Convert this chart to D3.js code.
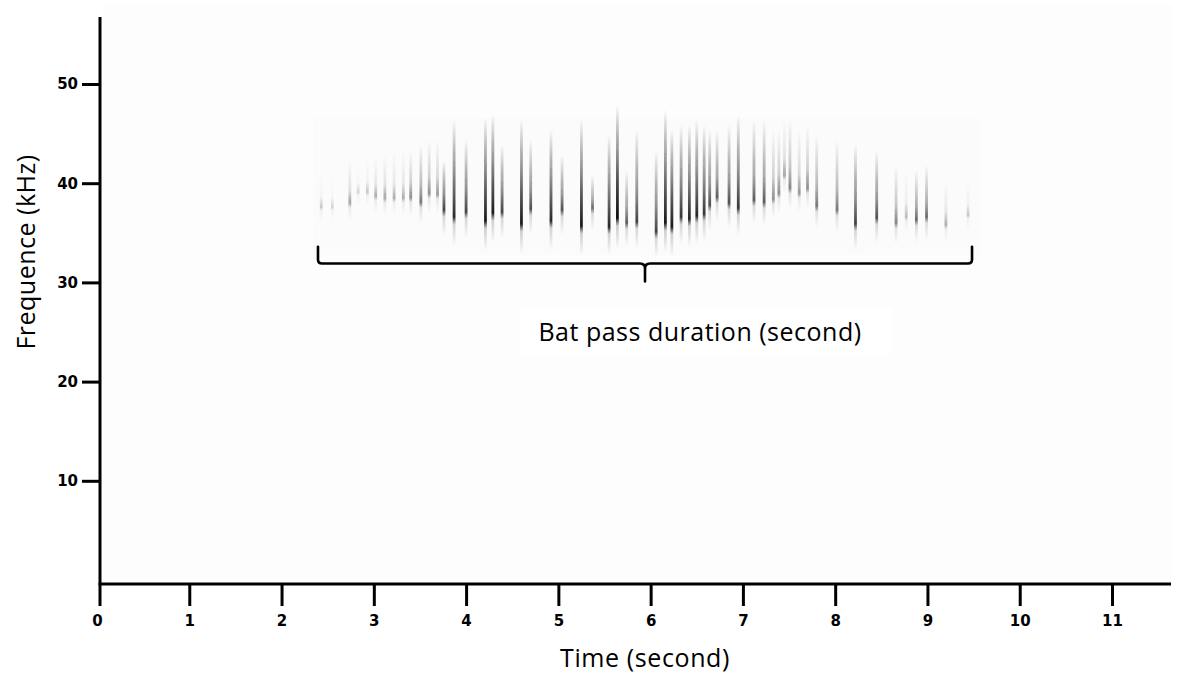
<!DOCTYPE html>
<html>
<head>
<meta charset="utf-8">
<script src="https://cdn.jsdelivr.net/npm/d3@7"></script>
<style>
  body { margin: 0; background: #fff; }
  svg { display: block; }
</style>
</head>
<body>
<svg id="chart" width="1180" height="679"></svg>
<script>
// pulse times (s), end frequency of each call (kHz), upper visible frequency (kHz), darkness 0..1
var pulseTime = [2.43, 2.55, 2.74, 2.83, 2.93, 3.02, 3.12, 3.22, 3.32, 3.40, 3.51, 3.60, 3.69, 3.76,
  3.87, 4.00, 4.21, 4.29, 4.39, 4.60, 4.70, 4.92, 5.04, 5.25, 5.37, 5.55, 5.64, 5.74, 5.85, 6.06,
  6.16, 6.23, 6.33, 6.42, 6.50, 6.58, 6.64, 6.72, 6.85, 6.95, 7.12, 7.23, 7.33, 7.39, 7.45, 7.51,
  7.61, 7.70, 7.80, 8.02, 8.22, 8.45, 8.66, 8.77, 8.88, 8.99, 9.20, 9.44];
var pulseEnd = [37.6, 37.6, 38.0, 39.1, 39.1, 38.7, 38.5, 38.5, 38.5, 38.6, 38.1, 39.0, 38.9, 37.3,
  36.6, 37.1, 36.2, 37.0, 37.1, 35.9, 37.4, 36.2, 37.3, 35.7, 37.5, 35.6, 36.5, 36.0, 36.1, 35.1,
  36.0, 35.6, 36.6, 36.4, 36.7, 36.9, 37.8, 38.6, 38.0, 37.5, 38.3, 38.1, 38.4, 39.0, 40.8, 39.5,
  39.0, 39.5, 37.7, 37.3, 35.9, 36.5, 36.0, 36.6, 36.3, 36.6, 35.8, 36.8];
var pulseTop = [39.8, 39.8, 41.3, 41.3, 41.8, 41.8, 41.8, 42.3, 42.3, 42.3, 42.9, 43.4, 43.4, 41.3,
  45.4, 43.4, 45.6, 45.9, 42.9, 45.4, 43.4, 44.4, 41.8, 45.4, 39.8, 43.9, 46.9, 40.3, 44.4, 42.3,
  46.4, 44.4, 44.9, 44.9, 45.4, 44.9, 44.4, 44.4, 44.9, 45.9, 45.4, 45.4, 44.4, 44.4, 45.4, 45.4,
  44.4, 44.9, 43.9, 43.4, 42.9, 42.3, 40.8, 40.3, 40.3, 40.8, 39.4, 39.4];
var pulseLevel = [0.2, 0.15, 0.35, 0.15, 0.2, 0.3, 0.35, 0.3, 0.3, 0.45, 0.55, 0.45, 0.4, 0.75,
  0.85, 0.75, 0.9, 0.9, 0.75, 0.9, 0.7, 0.85, 0.7, 0.9, 0.6, 0.85, 0.95, 0.65, 0.75, 0.75,
  0.9, 0.9, 0.8, 0.85, 0.85, 0.8, 0.7, 0.65, 0.7, 0.8, 0.65, 0.65, 0.45, 0.45, 0.35, 0.5,
  0.4, 0.45, 0.55, 0.55, 0.75, 0.7, 0.5, 0.25, 0.6, 0.6, 0.3, 0.2];

var xTicks = [0, 1, 2, 3, 4, 5, 6, 7, 8, 9, 10, 11];
var yTicks = [10, 20, 30, 40, 50];
var passStart = 2.395, passEnd = 9.483;   // bat pass duration (s)
var xLabel = "Time (second)";
var yLabel = "Frequence (kHz)";
var passLabel = "Bat pass duration (second)";

var svg = d3.select("#chart");
var x = d3.scaleLinear().domain([0, 11]).range([97, 1112]);
var y = d3.scaleLinear().domain([0, 50]).range([580, 84]);
var axisX = 100, axisY = 584;

// faint plot background
svg.append("rect")
  .attr("x", 103).attr("y", 5)
  .attr("width", 1069).attr("height", axisY - 6)
  .attr("fill", "#fdfdfd");

// spectrogram panel
var defs = svg.append("defs");
defs.append("filter").attr("id", "soft")
  .attr("x", "-200%").attr("width", "500%")
  .append("feGaussianBlur").attr("stdDeviation", 0.45);

svg.append("rect")
  .attr("x", x(2.34)).attr("y", y(46.5))
  .attr("width", x(9.57) - x(2.34)).attr("height", y(32.8) - y(46.5))
  .attr("fill", "#fbfbfb");

var pulses = pulseTime.map(function(t, i){
  return {t: t, end: pulseEnd[i], top: pulseTop[i] + 1, lv: pulseLevel[i], i: i};
});

pulses.forEach(function(d){
  var g = defs.append("linearGradient")
    .attr("id", "pg" + d.i)
    .attr("x1", 0).attr("x2", 0).attr("y1", 0).attr("y2", 1);
  var tail = 1 + d.lv * 2.2;
  var full = d.top - (d.end - tail);
  var endFrac = (d.top - d.end) / full;
  var op = function(v){ return Math.min(1, v); };
  var strong = d.lv * d.lv;   // faint calls stay faint higher up
  g.append("stop").attr("offset", 0).attr("stop-color", "#111").attr("stop-opacity", 0);
  g.append("stop").attr("offset", endFrac * 0.3).attr("stop-color", "#111").attr("stop-opacity", op(strong * 0.35));
  g.append("stop").attr("offset", endFrac * 0.7).attr("stop-color", "#111").attr("stop-opacity", op(strong * 0.85));
  g.append("stop").attr("offset", endFrac).attr("stop-color", "#111").attr("stop-opacity", op(d.lv * 1.05));
  g.append("stop").attr("offset", endFrac + (1 - endFrac) * 0.25).attr("stop-color", "#111").attr("stop-opacity", d.lv * 0.2);
  g.append("stop").attr("offset", 1).attr("stop-color", "#111").attr("stop-opacity", 0);
  d.tail = tail;
});

svg.append("g").attr("filter", "url(#soft)")
  .selectAll("rect.pulse")
  .data(pulses)
  .enter().append("rect")
    .attr("class", "pulse")
    .attr("x", function(d){ return x(d.t) - 1.4; })
    .attr("width", 2.8)
    .attr("y", function(d){ return y(d.top); })
    .attr("height", function(d){ return y(d.end - d.tail) - y(d.top); })
    .attr("fill", function(d){ return "url(#pg" + d.i + ")"; });

// brace under the pass
var bTop = y(33.6), bLine = y(31.9), bTip = y(30.1);
var xl = x(passStart), xr = x(passEnd), xc = x((passStart + passEnd) / 2);
var r = 4;
var brace = "M" + xl + "," + bTop +
  " L" + xl + "," + (bLine - r) +
  " Q" + xl + "," + bLine + " " + (xl + r) + "," + bLine +
  " L" + (xc - 5) + "," + bLine +
  " Q" + xc + "," + bLine + " " + xc + "," + (bLine + 5) +
  " L" + xc + "," + bTip +
  " M" + xc + "," + (bLine + 5) +
  " Q" + xc + "," + bLine + " " + (xc + 5) + "," + bLine +
  " L" + (xr - r) + "," + bLine +
  " Q" + xr + "," + bLine + " " + xr + "," + (bLine - r) +
  " L" + xr + "," + bTop;
svg.append("path")
  .attr("d", brace)
  .attr("fill", "none")
  .attr("stroke", "#000")
  .attr("stroke-width", 2.6)
  .attr("stroke-linecap", "round");

// label box + label
svg.append("rect")
  .attr("x", 520).attr("y", 307).attr("width", 372).attr("height", 47)
  .attr("fill", "#fff");
svg.append("text")
  .attr("x", 700).attr("y", 341)
  .attr("text-anchor", "middle")
  .style("font-family", "'Open Sans', sans-serif")
  .style("font-size", "25px")
  .style("letter-spacing", "0.5px")
  .attr("fill", "#000")
  .text(passLabel);

// axes
var xAxis = svg.append("g")
  .attr("transform", "translate(0," + axisY + ")")
  .call(d3.axisBottom(x).tickValues(xTicks).tickSize(22).tickPadding(9).tickFormat(d3.format("d")));
var yAxis = svg.append("g")
  .attr("transform", "translate(" + axisX + ",0)")
  .call(d3.axisLeft(y).tickValues(yTicks).tickSize(18).tickPadding(4).tickFormat(d3.format("d")));

[xAxis, yAxis].forEach(function(a){
  a.select(".domain").remove();
  a.selectAll(".tick line").attr("stroke", "#000").attr("stroke-width", 3);
  a.selectAll(".tick text")
    .attr("fill", "#000")
    .style("font-family", "'DejaVu Sans', sans-serif")
    .style("font-weight", "bold")
    .style("font-size", "15px");
});
xAxis.selectAll(".tick").filter(function(d){ return d === 0; }).select("line").remove();

svg.append("line")
  .attr("x1", axisX).attr("x2", axisX)
  .attr("y1", 17).attr("y2", 606)
  .attr("stroke", "#000").attr("stroke-width", 3);
svg.append("line")
  .attr("x1", axisX - 1.5).attr("x2", 1171)
  .attr("y1", axisY).attr("y2", axisY)
  .attr("stroke", "#000").attr("stroke-width", 3);

// axis titles
svg.append("text")
  .attr("x", 645).attr("y", 667)
  .attr("text-anchor", "middle")
  .style("font-family", "'Open Sans', sans-serif")
  .style("font-size", "25px")
  .style("letter-spacing", "0.6px")
  .text(xLabel);
svg.append("text")
  .attr("transform", "translate(35,252) rotate(-90)")
  .attr("text-anchor", "middle")
  .style("font-family", "'Open Sans', sans-serif")
  .style("font-size", "25px")
  .style("letter-spacing", "0.5px")
  .text(yLabel);
</script>
</body>
</html>
